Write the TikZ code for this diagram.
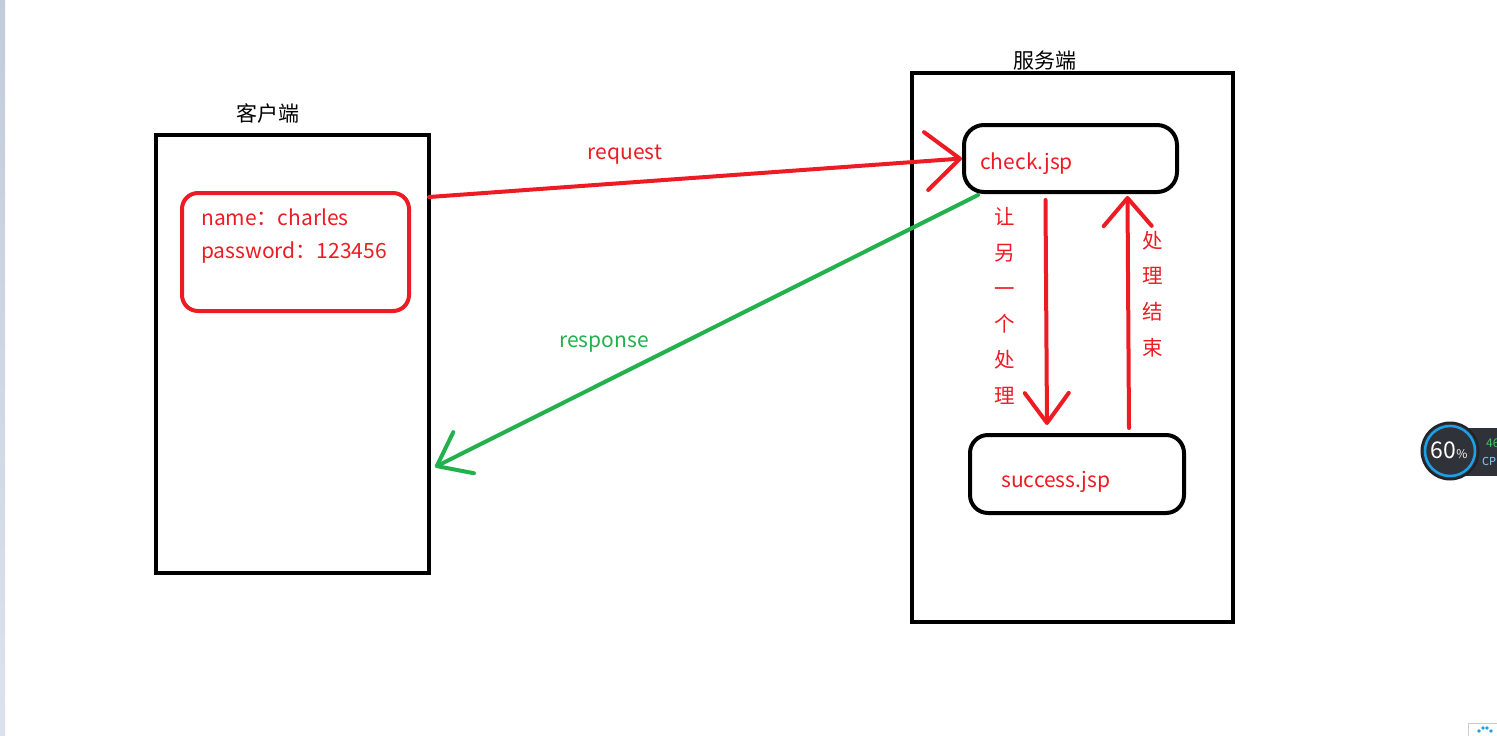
\documentclass[tikz,border=0pt]{standalone}
\usepackage{fontspec}
\setmainfont{Noto Sans CJK SC}
\usetikzlibrary{arrows.meta}
\definecolor{red}{RGB}{237,28,36}
\definecolor{green}{RGB}{34,177,76}
\definecolor{meterdark}{RGB}{48,50,58}
\definecolor{meterblue}{RGB}{28,160,230}
\definecolor{stripe}{RGB}{205,214,230}
\tikzset{
  panel/.style={draw=black, line width=4pt, anchor=north west, inner sep=0pt, outer sep=0pt},
  page/.style={draw=#1, line width=4pt, rounded corners=18pt, anchor=north west, inner sep=0pt, outer sep=0pt},
  lbl/.style={text=#1, inner sep=0pt, font=\fontsize{21}{25}\selectfont},
  vlbl/.style={text=#1, inner sep=0pt, align=center, font=\fontsize{20.5}{35.8}\selectfont},
  arrow/.style={draw=#1, line width=4pt, line cap=round, line join=round}
}
\begin{document}
\begin{tikzpicture}[x=1pt, y=-1pt]
  \useasboundingbox (0,0) rectangle (1497,736);
  \fill[white] (0,0) rectangle (1497,736);
  \shade[top color=stripe!95!black, bottom color=stripe!70!white] (0,0) rectangle (5,736);
  % client side
  \node[panel, minimum width=273pt, minimum height=438pt] (client) at (156,135) {};
  \node[lbl=black] (clienttitle) at (268,113) {客户端};
  \node[page=red, rounded corners=16pt, minimum width=227pt, minimum height=118pt] (cred) at (182,193) {};
  \node[lbl=red, anchor=west] (credname) at (201,217) {name：charles};
  \node[lbl=red, anchor=west] (credpass) at (201,253) {password：123456};
  % server side
  \node[panel, minimum width=321pt, minimum height=549pt] (server) at (912,73) {};
  \node[lbl=black] (servertitle) at (1045,61) {服务端};
  \node[page=black, rounded corners=20pt, minimum width=213pt, minimum height=67pt] (check) at (964,125) {};
  \node[lbl=red, anchor=west] (checktxt) at (980,164) {check.jsp};
  \node[page=black, minimum width=214pt, minimum height=78pt] (success) at (970,435) {};
  \node[lbl=red, anchor=west] (successtxt) at (1001,482) {success.jsp};
  % requests
  \coordinate (reqstart) at (429,197);
  \coordinate (resptip) at (435,467);
  \draw[arrow=red, -{Straight Barb[length=34pt, width=58pt, round]}] (reqstart) -- ([xshift=-2pt]check.west);
  \node[lbl=red] (reqlbl) at (625,155) {request};
  \draw[arrow=green, -{Straight Barb[length=30pt, width=46pt, round]}] ([xshift=14pt, yshift=-3pt]check.south west) -- (resptip);
  \node[lbl=green] (resplbl) at (604,344) {response};
  % forward and back
  \draw[arrow=red, -{Straight Barb[length=30pt, width=44pt, round]}] ([xshift=-25pt, yshift=-8pt]check.south) -- ([xshift=-30pt, yshift=10pt]success.north);
  \node[vlbl=red] (fwdlbl) at (1005,306) {让\\另\\一\\个\\处\\理};
  \draw[arrow=red, -{Straight Barb[length=28pt, width=48pt, round]}] ([xshift=52pt, yshift=7pt]success.north) -- ([xshift=57pt, yshift=-4pt]check.south);
  \node[vlbl=red] (backlbl) at (1153,294) {处\\理\\结\\束};
  % meter widget
  \fill[meterdark] (1450,428) rectangle (1497,476);
  \node[lbl=green!80!white, anchor=west, font=\fontsize{12}{14}\selectfont] (meterpct) at (1486,443) {46};
  \node[lbl=meterblue!50!white, anchor=west, font=\fontsize{11}{13}\selectfont] (metercpu) at (1482,461) {CP};
  \node[circle, fill=meterdark, draw=meterdark!70!black, line width=2pt, minimum size=57pt, inner sep=0pt] (meter) at (1450,451) {};
  \draw[meterblue, line width=2.5pt] (meter.center) circle (25pt);
  \node[lbl=white, font=\fontsize{23}{26}\selectfont] (meterval) at (1449,450) {60{\fontsize{12}{14}\selectfont\%}};
  % tray icon
  \draw[gray!40, line width=1pt] (1468,736) -- (1468,723) -- (1497,723);
  \foreach \dx/\dy in {1479/731, 1483/728, 1487/728, 1491/731} \fill[meterblue] (\dx,\dy) circle (1.8pt);
\end{tikzpicture}
\end{document}
